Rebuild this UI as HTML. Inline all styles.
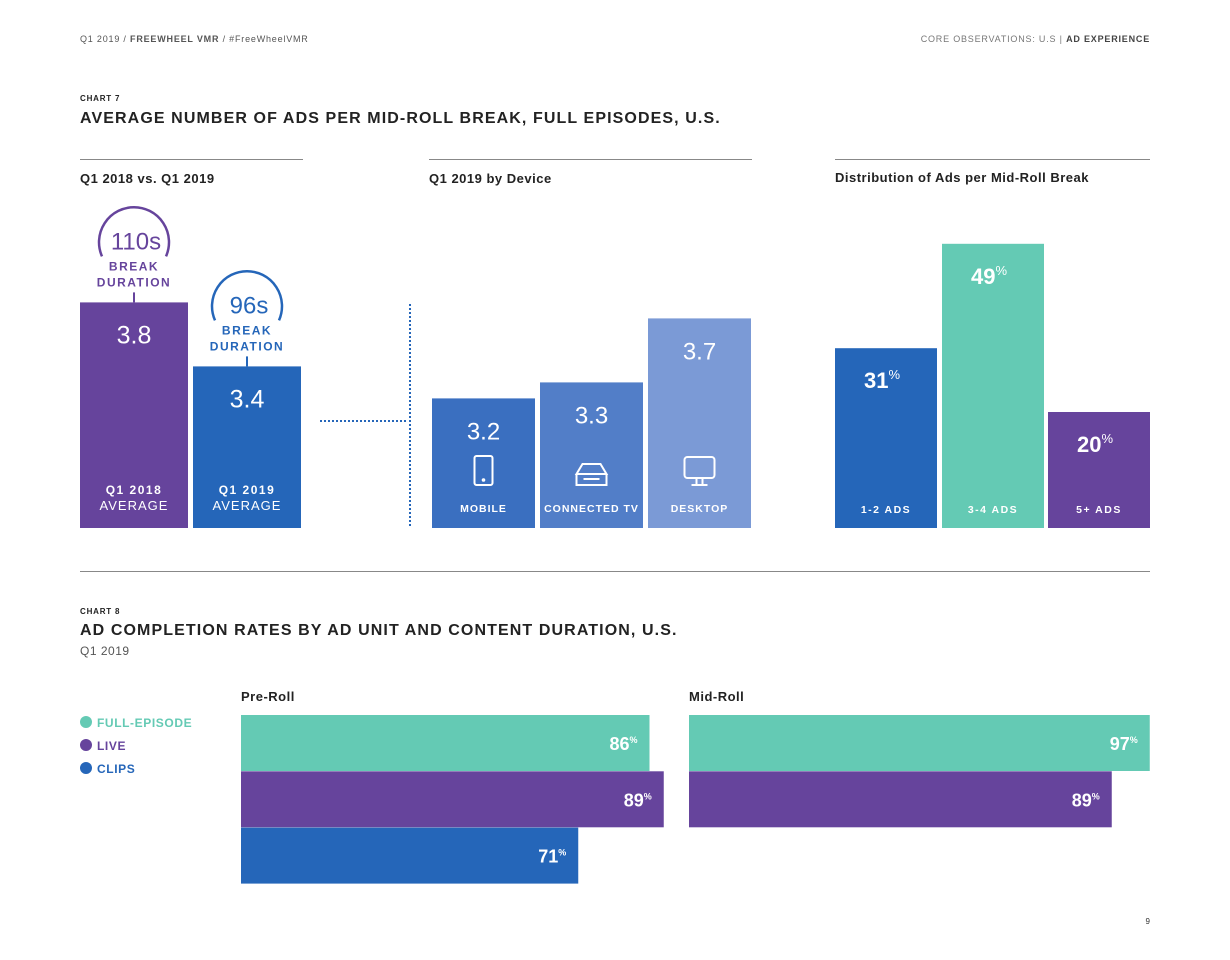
<!DOCTYPE html>
<html><head><meta charset="utf-8"><style>
body{margin:0;background:#fff;font-family:"Liberation Sans",sans-serif}
svg{display:block}
</style></head><body>
<svg id="s" width="1230" height="960" xmlns="http://www.w3.org/2000/svg" font-family="Liberation Sans, sans-serif">
<text x="80" y="42" font-size="9" fill="#555" letter-spacing="0.8">Q1 2019 / <tspan font-weight="bold">FREEWHEEL VMR</tspan> / #FreeWheelVMR</text>
<text x="1150" y="42" font-size="9" fill="#777" letter-spacing="0.8" text-anchor="end">CORE OBSERVATIONS: U.S | <tspan font-weight="bold" fill="#444">AD EXPERIENCE</tspan></text>
<text x="80" y="101" font-size="8" font-weight="bold" fill="#222" letter-spacing="0.8">CHART 7</text>
<text x="80" y="123" font-size="16" font-weight="bold" fill="#222" letter-spacing="1.1">AVERAGE NUMBER OF ADS PER MID-ROLL BREAK, FULL EPISODES, U.S.</text>
<line x1="80" y1="159.5" x2="303" y2="159.5" stroke="#888"/>
<line x1="429" y1="159.5" x2="752" y2="159.5" stroke="#888"/>
<line x1="835" y1="159.5" x2="1150" y2="159.5" stroke="#888"/>
<text x="80" y="183" font-size="13" font-weight="bold" fill="#222" letter-spacing="0.5">Q1 2018 vs. Q1 2019</text>
<text x="429" y="183" font-size="13" font-weight="bold" fill="#222" letter-spacing="0.5">Q1 2019 by Device</text>
<text x="835" y="182" font-size="13" font-weight="bold" fill="#222" letter-spacing="0.5">Distribution of Ads per Mid-Roll Break</text>
<g id="g1"></g><g id="g2"></g><g id="g3"></g><g id="g4"></g>
<line x1="320" y1="421" x2="406" y2="421" stroke="#2566b9" stroke-width="2" stroke-dasharray="2,2"/>
<line x1="410" y1="304" x2="410" y2="528" stroke="#2566b9" stroke-width="2" stroke-dasharray="2,2"/>
<line x1="80" y1="571.5" x2="1150" y2="571.5" stroke="#888"/>
<text x="80" y="614" font-size="8" font-weight="bold" fill="#222" letter-spacing="0.8">CHART 8</text>
<text x="80" y="635" font-size="16" font-weight="bold" fill="#222" letter-spacing="1.1">AD COMPLETION RATES BY AD UNIT AND CONTENT DURATION, U.S.</text>
<text x="80" y="655" font-size="12" fill="#555" letter-spacing="0.5">Q1 2019</text>
<text x="241" y="701" font-size="13" font-weight="bold" fill="#222" letter-spacing="0.5">Pre-Roll</text>
<text x="689" y="701" font-size="13" font-weight="bold" fill="#222" letter-spacing="0.5">Mid-Roll</text>
<g>
<circle cx="86" cy="722" r="6" fill="#64cab4"/>
<text x="97" y="727" font-size="12" font-weight="bold" fill="#64cab4" letter-spacing="0.6">FULL-EPISODE</text>
<circle cx="86" cy="745" r="6" fill="#66449c"/>
<text x="97" y="750" font-size="12" font-weight="bold" fill="#66449c" letter-spacing="0.6">LIVE</text>
<circle cx="86" cy="768" r="6" fill="#2566b9"/>
<text x="97" y="773" font-size="12" font-weight="bold" fill="#2566b9" letter-spacing="0.6">CLIPS</text>
</g>
<text x="1150" y="924" font-size="8" fill="#333" text-anchor="end">9</text>
</svg>
<script>
const NS="http://www.w3.org/2000/svg";
const yearLabels=["Q1 2018","Q1 2019"];
const yearValues=[3.8,3.4];
const breakDurations=["110s","96s"];
const deviceLabels=["MOBILE","CONNECTED TV","DESKTOP"];
const deviceValues=[3.2,3.3,3.7];
const distLabels=["1-2 ADS","3-4 ADS","5+ ADS"];
const distValues=[31,49,20];
const preSeries=["FULL-EPISODE","LIVE","CLIPS"];
const preValues=[86,89,71];
const midSeries=["FULL-EPISODE","LIVE"];
const midValues=[97,89];

function mk(p,tag,a,txt){const e=document.createElementNS(NS,tag);for(const k in a)e.setAttribute(k,a[k]);if(txt!=null)e.textContent=txt;p.appendChild(e);return e;}
const base=528;
const yAvg=v=>base-160*(v-2.39);
const yPct=v=>base-5.8*v;
const xPct=v=>4.75*v;

const g1=document.getElementById('g1');
const c1=["#66449c","#2566b9"];
yearValues.forEach((v,i)=>{
  const x=80+i*113,w=108,top=yAvg(v),cx=x+w/2;
  const r=mk(g1,'rect',{x:x,y:top,width:w,height:base-top,fill:c1[i]});
  
  
  const t=mk(g1,'text',{x:cx,y:top+41,'font-size':25,fill:'#fff','text-anchor':'middle'},v.toFixed(1));
  
  const l1=mk(g1,'text',{x:cx,y:494,'font-size':12,'font-weight':'bold',fill:'#fff','text-anchor':'middle','letter-spacing':'1.5'},yearLabels[i]);
  
  const l2=mk(g1,'text',{x:cx,y:510,'font-size':13,fill:'#fff','text-anchor':'middle','letter-spacing':'1'},"AVERAGE");
  
  const ac=mk(g1,'line',{x1:cx,y1:top-10,x2:cx,y2:top,stroke:c1[i],'stroke-width':2});
  
  const cy=top-64;
  const arc=mk(g1,'path',{d:`M ${cx-32} ${cy+18} A 35 35 0 1 1 ${cx+32} ${cy+18}`,fill:'none',stroke:c1[i],'stroke-width':2.5});
  
  const bt=mk(g1,'text',{x:cx+2,y:cy+11,'font-size':24,fill:c1[i],'text-anchor':'middle'},breakDurations[i]);
  
  const b1=mk(g1,'text',{x:cx,y:cy+32,'font-size':12,'font-weight':'bold',fill:c1[i],'text-anchor':'middle','letter-spacing':'1.5'},"BREAK");
  
  const b2=mk(g1,'text',{x:cx,y:cy+48,'font-size':12,'font-weight':'bold',fill:c1[i],'text-anchor':'middle','letter-spacing':'1.5'},"DURATION");
  
});

const g2=document.getElementById('g2');
const c2=["#3a6fc0","#527ec8","#7b9ad6"];
deviceValues.forEach((v,i)=>{
  const x=432+i*108,w=103,top=yAvg(v),cx=x+w/2;
  const r=mk(g2,'rect',{x:x,y:top,width:w,height:base-top,fill:c2[i]});
  
  
  const t=mk(g2,'text',{x:cx,y:top+41,'font-size':24,fill:'#fff','text-anchor':'middle'},v.toFixed(1));
  
  const l=mk(g2,'text',{x:cx,y:512,'font-size':10.5,'font-weight':'bold',fill:'#fff','text-anchor':'middle','letter-spacing':'1'},deviceLabels[i]);
  
  const ic=mk(g2,'g',{fill:'none',stroke:'#fff','stroke-width':2});
  
  if(i===0){mk(ic,'rect',{x:cx-9,y:456,width:18,height:29,rx:2});mk(ic,'circle',{cx:cx,cy:480,r:0.8});}
  else if(i===1){mk(ic,'path',{d:`M ${cx-15} 474 L ${cx-9} 464 L ${cx+9} 464 L ${cx+15} 474 Z M ${cx-15} 474 L ${cx-15} 485 L ${cx+15} 485 L ${cx+15} 474`});mk(ic,'line',{x1:cx-8,y1:479,x2:cx+8,y2:479});}
  else {mk(ic,'rect',{x:cx-15,y:457,width:30,height:21,rx:3});mk(ic,'path',{d:`M ${cx-3} 479 L ${cx-3} 484 M ${cx+3} 479 L ${cx+3} 484 M ${cx-8} 485 L ${cx+8} 485`});}
});

const g3=document.getElementById('g3');
const c3=["#2566b9","#64cab4","#66449c"];
const ox=[835,942,1048];
distValues.forEach((v,i)=>{
  const x=ox[i],w=102,top=yPct(v),cx=x+w/2;
  const r=mk(g3,'rect',{x:x,y:top,width:w,height:base-top,fill:c3[i]});
  
  
  const t=mk(g3,'text',{x:cx-4,y:top+40,'font-size':22,'font-weight':'bold',fill:'#fff','text-anchor':'middle'});
  t.innerHTML=v+'<tspan font-size="13" font-weight="normal" dy="-9">%</tspan>';
  
  const l=mk(g3,'text',{x:cx,y:513,'font-size':10.5,'font-weight':'bold',fill:'#fff','text-anchor':'middle','letter-spacing':'1.5'},distLabels[i]);
  
});

const g4=document.getElementById('g4');
const c4={"FULL-EPISODE":"#64cab4","LIVE":"#66449c","CLIPS":"#2566b9"};
function hbars(x0,series,vals,name){
  vals.forEach((v,i)=>{
    const y=715+i*56.3,w=xPct(v);
    const r=mk(g4,'rect',{x:x0,y:y,width:w,height:56,fill:c4[series[i]]});
    
    
    const t=mk(g4,'text',{x:x0+w-12,y:y+35,'font-size':18,'font-weight':'bold',fill:'#fff','text-anchor':'end'});
    t.innerHTML=v+'<tspan font-size="9" dy="-7">%</tspan>';
    
  });
}
hbars(241,preSeries,preValues,'preroll');
hbars(689,midSeries,midValues,'midroll');
</script>
</body></html>
